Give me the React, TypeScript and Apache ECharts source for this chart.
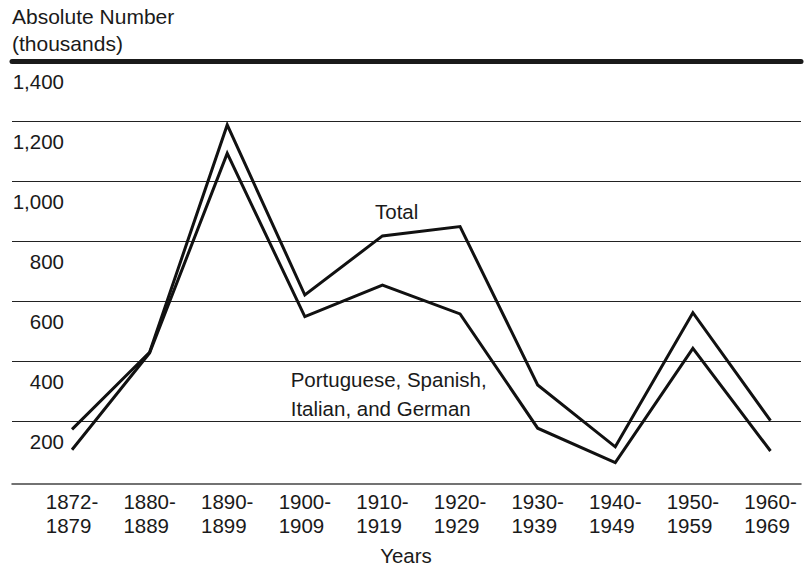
import React, { useEffect, useRef } from "react";
import * as echarts from "echarts";

const periods = [
  "1872-1879",
  "1880-1889",
  "1890-1899",
  "1900-1909",
  "1910-1919",
  "1920-1929",
  "1930-1939",
  "1940-1949",
  "1950-1959",
  "1960-1969",
];
const totalValues = [172, 429, 1187, 620, 817, 848, 320, 114, 561, 201];
const groupValues = [104, 427, 1092, 548, 653, 557, 176, 61, 442, 100];

const yMin = 0;
const yMax = 1400;
const yStep = 200;

const titleLines = ["Absolute Number", "(thousands)"];
const totalLabel = "Total";
const groupLabelLines = ["Portuguese, Spanish,", "Italian, and German"];
const xAxisName = "Years";

const FONT = "'Liberation Sans', Arial, Helvetica, sans-serif";
const INK = "#1a1a1a";
const FS = 20.5;

export default function App() {
  const ref = useRef<HTMLDivElement>(null);
  useEffect(() => {
    document.body.style.margin = "0";
    document.body.style.overflow = "hidden";
    if (!ref.current) return;
    const chart = echarts.init(ref.current, null, { renderer: "svg" });
    const gridTop = 61;
    const gridHeight = 420;
    const gridBottom = 567 - gridTop - gridHeight;
    const option: any = {
      animation: false,
      backgroundColor: "#ffffff",
      textStyle: { fontFamily: FONT, color: INK },
      grid: [
        { left: 12, right: 5, top: gridTop, bottom: gridBottom, containLabel: false },
        { left: 72, right: 35.5, top: gridTop, bottom: gridBottom, containLabel: false },
      ],
      xAxis: [
        {
          gridIndex: 0,
          type: "value",
          position: "top",
          min: 0,
          max: 1,
          axisLine: { show: true, onZero: false, lineStyle: { color: INK, width: 5 } },
          axisTick: { show: false },
          axisLabel: { show: false },
          splitLine: { show: false },
        },
        {
          gridIndex: 0,
          type: "value",
          position: "bottom",
          offset: 3,
          min: 0,
          max: 1,
          axisLine: { show: true, onZero: false, lineStyle: { color: "#444", width: 1.5 } },
          axisTick: { show: false },
          axisLabel: { show: false },
          splitLine: { show: false },
        },
        {
          gridIndex: 1,
          type: "category",
          data: periods,
          boundaryGap: false,
          axisLine: { show: false, onZero: false },
          axisTick: { show: false },
          splitLine: { show: false },
          axisLabel: {
            margin: 9,
            align: "center",
            verticalAlign: "top",
            interval: 0,
            formatter: (v: string) => {
              const [a, b] = v.split("-");
              return `{a|${a}-}\n{a|${b}}`;
            },
            rich: {
              a: {
                fontFamily: FONT,
                fontSize: FS,
                lineHeight: 23.5,
                color: INK,
                align: "left",
              },
            },
          },
        },
      ],
      yAxis: [
        {
          gridIndex: 0,
          type: "value",
          min: yMin,
          max: yMax,
          interval: yStep,
          axisLine: { show: false },
          axisTick: { show: false },
          splitLine: {
            show: true,
            showMinLine: false,
            showMaxLine: false,
            lineStyle: { color: "#222", width: 1.2 },
          },
          axisLabel: {
            inside: true,
            margin: 52,
            align: "right",
            verticalAlign: "top",
            lineHeight: 40,
            fontSize: FS,
            fontFamily: FONT,
            color: INK,
            showMinLabel: false,
            formatter: (v: number) => (v === 0 ? "" : v.toLocaleString("en-US")),
          },
        },
        {
          gridIndex: 1,
          type: "value",
          min: yMin,
          max: yMax,
          interval: yStep,
          axisLine: { show: false },
          axisTick: { show: false },
          axisLabel: { show: false },
          splitLine: { show: false },
        },
      ],
      series: [
        {
          name: "Total",
          type: "line",
          xAxisIndex: 2,
          yAxisIndex: 1,
          data: totalValues,
          symbol: "none",
          lineStyle: { color: "#111", width: 3, join: "miter" },
          z: 5,
        },
        {
          name: "Portuguese, Spanish, Italian, and German",
          type: "line",
          xAxisIndex: 2,
          yAxisIndex: 1,
          data: groupValues,
          symbol: "none",
          lineStyle: { color: "#111", width: 3, join: "miter" },
          z: 5,
        },
      ],
      graphic: [
        {
          type: "text",
          left: 12,
          top: 16.7 - 13,
          style: {
            text: titleLines.join("\n"),
            font: `${FS + 0.5}px ${FONT}`,
            lineHeight: 26.3,
            fill: INK,
          },
        },
        {
          type: "text",
          x: 375,
          y: 211.7,
          style: {
            text: totalLabel,
            font: `${FS}px ${FONT}`,
            fill: INK,
            verticalAlign: "middle",
            align: "left",
          },
        },
        {
          type: "text",
          x: 290.7,
          y: 380 - 14.15,
          style: {
            text: groupLabelLines.join("\n"),
            font: `${FS}px ${FONT}`,
            lineHeight: 28.3,
            fill: INK,
            verticalAlign: "top",
            align: "left",
          },
        },
        {
          type: "text",
          x: 406,
          y: 555,
          style: {
            text: xAxisName,
            font: `${FS}px ${FONT}`,
            fill: INK,
            verticalAlign: "middle",
            align: "center",
          },
        },
      ],
    };
    chart.setOption(option);
    return () => chart.dispose();
  }, []);
  return (
    <div
      ref={ref}
      style={{ position: "absolute", left: 0, top: 0, width: 806, height: 567 }}
    />
  );
}
